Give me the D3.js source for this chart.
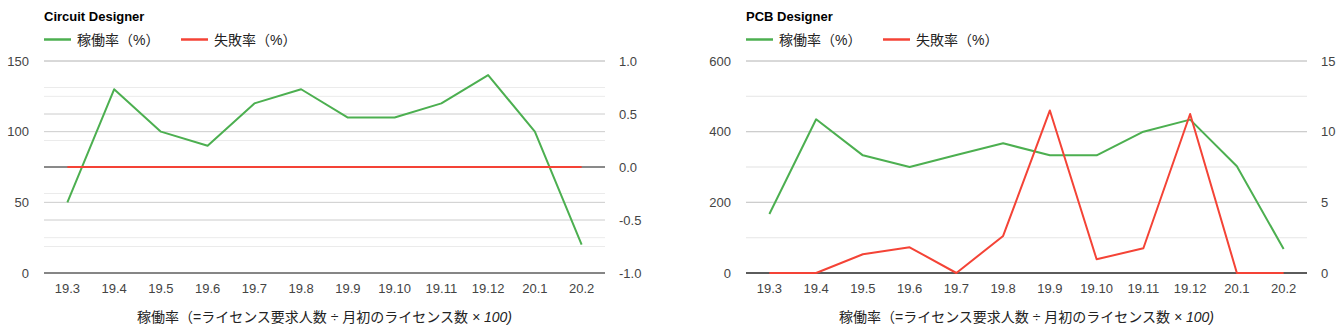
<!DOCTYPE html>
<html>
<head>
<meta charset="utf-8">
<script src="https://cdn.jsdelivr.net/npm/d3@7"></script>
<style>
  html, body { margin: 0; padding: 0; background: #fff; }
  svg { display: block; }
  text { font-family: "Liberation Sans", Arial, "Noto Sans CJK JP", sans-serif; }
</style>
</head>
<body>
<svg id="chart" width="1344" height="336"></svg>
<script>
// ---------- data ----------
const categories = ["19.3","19.4","19.5","19.6","19.7","19.8","19.9","19.10","19.11","19.12","20.1","20.2"];
const seriesNames = ["稼働率（%）", "失敗率（%）"];
const chartTitles = ["Circuit Designer", "PCB Designer"];

const circuitUtil = [50, 130, 100, 90, 120, 130, 110, 110, 120, 140, 100, 20];
const circuitFail = [0, 0, 0, 0, 0, 0, 0, 0, 0, 0, 0, 0];
const pcbUtil = [167, 435, 333, 300, 334, 367, 333, 333, 400, 434, 302, 68];
const pcbFail = [0, 0, 1.33, 1.82, 0, 2.62, 11.5, 0.97, 1.75, 11.25, 0, 0];

const circuitLeftTicks = [0, 50, 100, 150];
const circuitRightTicks = [-1, -0.5, 0, 0.5, 1];
const circuitRightLabels = ["-1.0", "-0.5", "0.0", "0.5", "1.0"];
const pcbLeftTicks = [0, 200, 400, 600];
const pcbRightTicks = [0, 5, 10, 15];
const pcbRightLabels = ["0", "5", "10", "15"];

const colors = ["#4caf50", "#f44336"];

// ---------- drawing ----------
const svg = d3.select("#chart");

const charts = [
  { title: chartTitles[0], util: circuitUtil, fail: circuitFail,
    lt: circuitLeftTicks, rt: circuitRightTicks, rl: circuitRightLabels, left: 44 },
  { title: chartTitles[1], util: pcbUtil, fail: pcbFail,
    lt: pcbLeftTicks, rt: pcbRightTicks, rl: pcbRightLabels, left: 746 }
];

const plotTop = 61, plotBottom = 273, plotW = 561;

function minors(ticks) {
  const out = [];
  for (let i = 0; i < ticks.length - 1; i++) out.push((ticks[i] + ticks[i + 1]) / 2);
  return out;
}

charts.forEach(c => {
  const g = svg.append("g");
  const x0 = c.left, x1 = c.left + plotW;

  const x = d3.scaleBand().domain(categories).range([x0, x1]).padding(0);
  const cx = d => x(d) + x.bandwidth() / 2;
  const yL = d3.scaleLinear().domain([c.lt[0], c.lt[c.lt.length - 1]]).range([plotBottom, plotTop]);
  const yR = d3.scaleLinear().domain([c.rt[0], c.rt[c.rt.length - 1]]).range([plotBottom, plotTop]);

  const grid = g.append("g");
  const hline = (yy, col) => grid.append("line")
    .attr("x1", x0).attr("x2", x1).attr("y1", yy).attr("y2", yy)
    .attr("stroke", col).attr("stroke-width", 1);
  minors(c.lt).forEach(v => hline(yL(v), "#ebebeb"));
  minors(c.rt).forEach(v => hline(yR(v), "#ebebeb"));
  c.lt.forEach(v => hline(yL(v), "#cccccc"));
  c.rt.forEach(v => hline(yR(v), "#cccccc"));
  [yL(0), yR(0)].forEach(yy => hline(yy, "#333333"));

  const styleTicks = sel => sel.selectAll("text").attr("font-size", 13).attr("fill", "#444")
    .attr("font-family", "Liberation Sans, Arial, sans-serif");

  const la = g.append("g").attr("transform", `translate(${x0},0)`)
    .call(d3.axisLeft(yL).tickValues(c.lt).tickSize(0).tickPadding(15));
  la.select(".domain").remove();
  styleTicks(la);

  const ra = g.append("g").attr("transform", `translate(${x1},0)`)
    .call(d3.axisRight(yR).tickValues(c.rt).tickSize(0).tickPadding(14)
      .tickFormat((d, i) => c.rl[i]));
  ra.select(".domain").remove();
  styleTicks(ra);

  const ba = g.append("g").attr("transform", `translate(0,${plotBottom})`)
    .call(d3.axisBottom(x).tickSize(0).tickPadding(11));
  ba.select(".domain").remove();
  styleTicks(ba);

  const lineL = d3.line().x((d, i) => cx(categories[i])).y(d => yL(d));
  const lineR = d3.line().x((d, i) => cx(categories[i])).y(d => yR(d));
  g.append("path").attr("d", lineL(c.util)).attr("fill", "none")
    .attr("stroke", colors[0]).attr("stroke-width", 2).attr("stroke-linejoin", "round");
  g.append("path").attr("d", lineR(c.fail)).attr("fill", "none")
    .attr("stroke", colors[1]).attr("stroke-width", 2).attr("stroke-linejoin", "round");

  g.append("text").attr("x", x0).attr("y", 21).text(c.title)
    .attr("font-size", 13).attr("font-weight", "bold").attr("fill", "#000");

  const legX = [x0, x0 + 137];
  seriesNames.forEach((name, i) => {
    g.append("line").attr("x1", legX[i]).attr("x2", legX[i] + 27)
      .attr("y1", 39.5).attr("y2", 39.5)
      .attr("stroke", colors[i]).attr("stroke-width", 2.5);
    g.append("text").attr("x", legX[i] + 33).attr("y", 44.5).text(name)
      .attr("font-size", 14).attr("fill", "#222");
  });

  const t = g.append("text").attr("x", (x0 + x1) / 2).attr("y", 322)
    .attr("text-anchor", "middle").attr("font-size", 14).attr("fill", "#222");
  t.append("tspan").text("稼働率（=ライセンス要求人数 ÷ 月初のライセンス数 ");
  t.append("tspan").attr("font-style", "italic").text("× 100)");
});
</script>
</body>
</html>
